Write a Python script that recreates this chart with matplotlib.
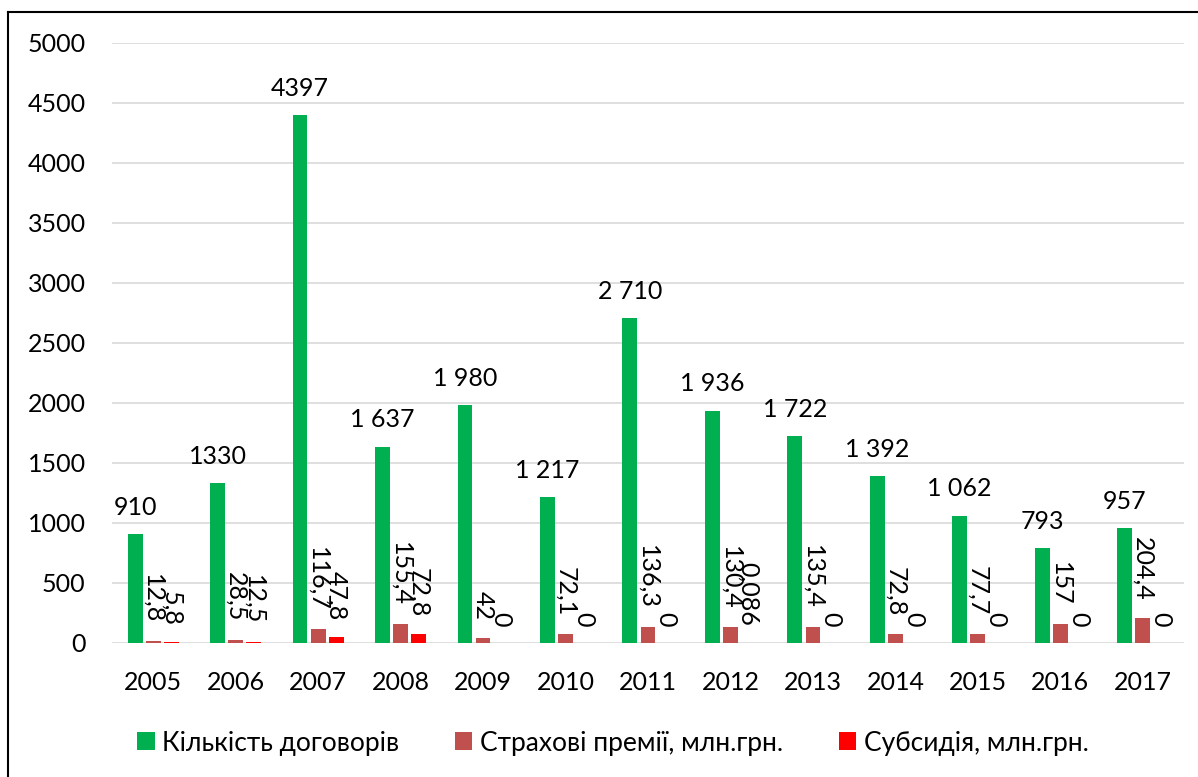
import matplotlib
matplotlib.use("Agg")
import matplotlib.pyplot as plt
from matplotlib.patches import Patch
from matplotlib.lines import Line2D
import numpy as np

plt.rcParams['font.family'] = ['Lato', 'DejaVu Sans']

years = ['2005', '2006', '2007', '2008', '2009', '2010', '2011', '2012',
         '2013', '2014', '2015', '2016', '2017']
contracts = [910, 1330, 4397, 1637, 1980, 1217, 2710, 1936, 1722, 1392, 1062, 793, 957]
contracts_lbl = ['910', '1330', '4397', '1 637', '1 980', '1 217', '2 710', '1 936',
                 '1 722', '1 392', '1 062', '793', '957']
premiums = [12.8, 28.5, 116.7, 155.4, 42, 72.1, 136.3, 130.4, 135.4, 72.8, 77.7, 157, 204.4]
premiums_lbl = ['12,8', '28,5', '116,7', '155,4', '42', '72,1', '136,3', '130,4',
                '135,4', '72,8', '77,7', '157', '204,4']
subsidy = [5.8, 12.5, 47.8, 72.8, 0, 0, 0, 0.086, 0, 0, 0, 0, 0]
subsidy_lbl = ['5,8', '12,5', '47,8', '72,8', '0', '0', '0', '0,086', '0', '0', '0', '0', '0']

series_names = ['Кількість договорів', 'Страхові премії, млн.грн.', 'Субсидія, млн.грн.']
colors = ['#00B050', '#C0504D', '#FF0000']

W, H = 1198, 777
fig = plt.figure(figsize=(W / 100, H / 100), dpi=100)
ax = fig.add_axes([112 / W, (H - 643) / H, (1184 - 112) / W, (643 - 43) / H])

x = np.arange(len(years))
bw = 0.18
off = 0.22
FS = 18

ax.bar(x - off, contracts, bw, color=colors[0], zorder=3)
ax.bar(x, premiums, bw, color=colors[1], zorder=3)
ax.bar(x + off, subsidy, bw, color=colors[2], zorder=3)

for xi, v, s in zip(x - off, contracts, contracts_lbl):
    ax.annotate(s, (xi, v), xytext=(0, 11), textcoords='offset points',
                ha='center', va='bottom', fontsize=FS, color='black', zorder=5)
for xi, v, s in zip(x, premiums, premiums_lbl):
    ax.annotate(s, (xi, v), xytext=(0, 13), textcoords='offset points',
                ha='center', va='bottom', rotation=-90, fontsize=FS, color='black', zorder=5)
for xi, v, s in zip(x + off, subsidy, subsidy_lbl):
    ax.annotate(s, (xi, v), xytext=(0, 12), textcoords='offset points',
                ha='center', va='bottom', rotation=-90, fontsize=FS, color='black', zorder=5)

ax.set_xlim(-0.5, len(years) - 0.5)
ax.set_ylim(0, 5000)
ax.set_yticks(np.arange(0, 5001, 500))
ax.set_xticks(x)
ax.set_xticklabels(years)
ax.tick_params(axis='both', length=0, labelsize=FS, colors='black')
ax.tick_params(axis='x', pad=20)
ax.tick_params(axis='y', pad=19)
ax.grid(axis='y', color='#D9D9D9', linewidth=1.2, zorder=0)
ax.set_axisbelow(True)
for sp in ax.spines.values():
    sp.set_visible(False)

handles = [Patch(facecolor=c, edgecolor='none') for c in colors]
fig.legend(handles, series_names, loc='center', bbox_to_anchor=(613 / W, (H - 743) / H),
           ncol=3, frameon=False, fontsize=19, handlelength=0.65, handleheight=0.65,
           handletextpad=0.3, columnspacing=2.1)

# figure border (left and top visible)
fig.add_artist(Line2D([8 / W, 8 / W], [0, (H - 12) / H], color='black', linewidth=1.5,
                      transform=fig.transFigure))
fig.add_artist(Line2D([8 / W, 1], [(H - 12) / H, (H - 12) / H], color='black', linewidth=1.5,
                      transform=fig.transFigure))

fig.savefig('out.png', dpi=100)
